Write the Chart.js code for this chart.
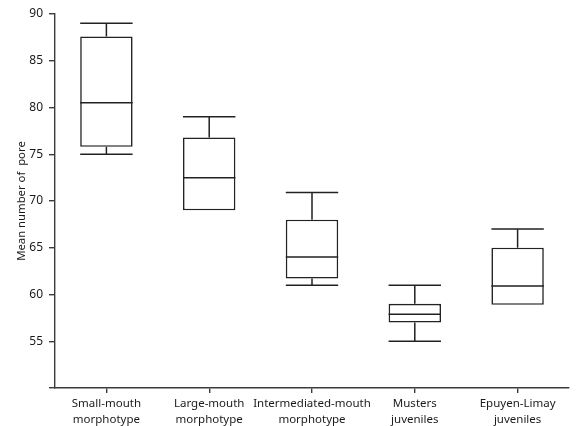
<!DOCTYPE html>
<html>
<head>
<meta charset="utf-8">
<script src="https://cdn.jsdelivr.net/npm/chart.js@4"></script>
<style>
  html, body { margin: 0; padding: 0; background: #fff; overflow: hidden; }
</style>
</head>
<body>
<canvas id="boxChart" width="585" height="426"></canvas>
<script>
/* ==========================
   DATA
========================== */
const categories = [
    ["Small-mouth", "morphotype"],
    ["Large-mouth", "morphotype"],
    ["Intermediated-mouth", "morphotype"],
    ["Musters", "juveniles"],
    ["Epuyen-Limay", "juveniles"]
];
const whiskerLow  = [75.0, 69.0, 61.0, 55.0, 58.9];
const q1          = [75.8, 69.0, 61.7, 57.0, 58.9];
const median      = [80.5, 72.5, 64.0, 57.9, 60.9];
const q3          = [87.6, 76.8, 68.0, 59.0, 65.0];
const whiskerHigh = [89.0, 79.0, 70.9, 61.0, 67.0];
const yTicks = [50, 55, 60, 65, 70, 75, 80, 85, 90];

const INK = "#222";
const AXIS = "#3c3c3c";
const FONT = "'Noto Sans', 'DejaVu Sans', sans-serif";

/* ==========================
   WHISKERS + MEDIAN
========================== */
const whiskerPlugin = {
    id: "whiskers",
    afterDatasetsDraw(chart) {
        const ctx = chart.ctx;
        const yScale = chart.scales.y;
        const meta = chart.getDatasetMeta(0);
        ctx.save();
        ctx.strokeStyle = INK;
        ctx.lineWidth = 1.5;
        meta.data.forEach((bar, i) => {
            const x = bar.x;
            const half = bar.width / 2;
            const yMed = yScale.getPixelForValue(median[i]);
            const yQ1 = yScale.getPixelForValue(q1[i]);
            const yQ3 = yScale.getPixelForValue(q3[i]);
            const yHi = yScale.getPixelForValue(whiskerHigh[i]);
            const yLo = yScale.getPixelForValue(whiskerLow[i]);

            ctx.beginPath();
            ctx.moveTo(x - half, yMed);
            ctx.lineTo(x + half, yMed);

            if (whiskerHigh[i] > q3[i]) {
                ctx.moveTo(x, yQ3);
                ctx.lineTo(x, yHi);
                ctx.moveTo(x - half, yHi);
                ctx.lineTo(x + half, yHi);
            }
            if (whiskerLow[i] < q1[i]) {
                ctx.moveTo(x, yQ1);
                ctx.lineTo(x, yLo);
                ctx.moveTo(x - half, yLo);
                ctx.lineTo(x + half, yLo);
            }
            ctx.stroke();
        });
        ctx.restore();
    }
};

/* ==========================
   CHART
========================== */
new Chart(document.getElementById("boxChart"), {
    type: "bar",
    data: {
        labels: categories,
        datasets: [{
            data: q1.map((v, i) => [v, q3[i]]),
            backgroundColor: "#ffffff",
            borderColor: INK,
            borderWidth: 1.6,
            borderSkipped: false,
            categoryPercentage: 1,
            barPercentage: 0.51
        }]
    },
    options: {
        responsive: false,
        animation: false,
        layout: { padding: { top: 14, right: 16, left: 0, bottom: 0 } },
        plugins: {
            legend: { display: false },
            tooltip: { enabled: false }
        },
        scales: {
            x: {
                offset: true,
                grid: { display: true, drawOnChartArea: false, offset: false, tickLength: 5, color: AXIS, lineWidth: 1.4 },
                border: { display: true, color: AXIS, width: 1.4 },
                ticks: {
                    color: "#1a1a1a",
                    padding: 3,
                    maxRotation: 0,
                    autoSkip: false,
                    font: { family: FONT, size: 11.5, lineHeight: 1.4 }
                },
                afterFit(scale) { scale.height = 38; }
            },
            y: {
                min: 50,
                max: 90,
                afterBuildTicks(scale) { scale.ticks = yTicks.map(v => ({ value: v })); },
                grid: { display: true, drawOnChartArea: false, tickLength: 6, color: AXIS, lineWidth: 1.4 },
                border: { display: true, color: AXIS, width: 1.4 },
                ticks: {
                    color: "#1a1a1a",
                    padding: 6,
                    font: { family: FONT, size: 12 },
                    callback: v => (v === 50 ? "" : v)
                },
                title: {
                    display: true,
                    text: "Mean number of  pore",
                    color: "#1a1a1a",
                    padding: { top: 15, bottom: 0 },
                    font: { family: FONT, size: 11.3 }
                },
                afterFit(scale) { scale.width = 55; }
            }
        }
    },
    plugins: [whiskerPlugin]
});
</script>
</body>
</html>
